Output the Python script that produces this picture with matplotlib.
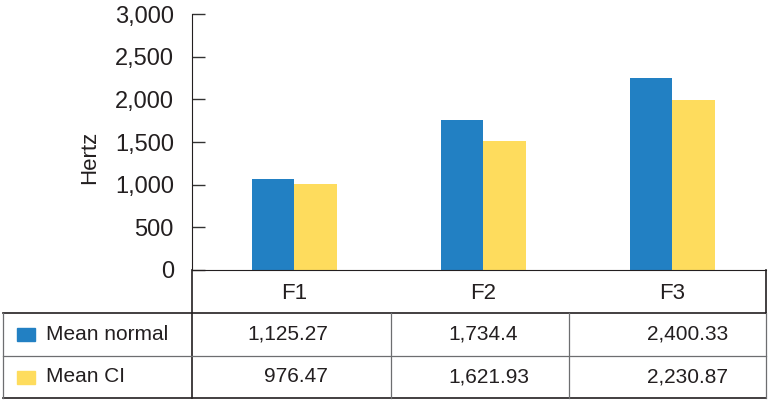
import matplotlib
matplotlib.use('Agg')
import matplotlib.pyplot as plt
from matplotlib.lines import Line2D
from matplotlib.patches import Rectangle
import numpy as np

plt.rcParams['font.family'] = ['Liberation Sans', 'DejaVu Sans']

# data
categories = ['F1', 'F2', 'F3']
series = ['Mean normal', 'Mean CI']
bar_normal = [1066, 1758, 2246]   # bar heights as drawn
bar_ci = [1004, 1508, 1996]
table_normal = ['1,125.27', '1,734.4', '2,400.33']
table_ci = ['976.47', '1,621.93', '2,230.87']
colors = ['#2280C3', '#FEDC5D']

W, H = 770, 401
fig = plt.figure(figsize=(W / 100, H / 100), dpi=100)

# chart area in pixels
x0, x1, ytop, ybase = 192, 766, 14, 270
ax = fig.add_axes([x0 / W, (H - ybase) / H, (x1 - x0) / W, (ybase - ytop) / H])

x = np.arange(len(categories))
bw = 0.225
ax.bar(x - bw / 2, bar_normal, bw, color=colors[0])
ax.bar(x + bw / 2, bar_ci, bw, color=colors[1])
ax.set_xlim(-0.542, 2.495)
ax.set_ylim(0, 3000)
ax.set_yticks(range(0, 3001, 500))
ax.set_yticklabels([f'{v:,}' for v in range(0, 3001, 500)])
ax.tick_params(axis='y', direction='in', length=9, width=1, color='#333333',
               labelsize=17, pad=13, labelcolor='#231f20')
ax.set_xticks([])
for s in ['top', 'right']:
    ax.spines[s].set_visible(False)
ax.spines['left'].set_color('#231f20')
ax.spines['bottom'].set_color('#231f20')
ax.set_ylabel('Hertz', fontsize=16, color='#231f20')
ax.yaxis.set_label_coords(-0.16, 0.44)

# table drawn in pixel coordinates on an overlay axes
tb = fig.add_axes([0, 0, 1, 1])
tb.set_xlim(0, W)
tb.set_ylim(H, 0)
tb.axis('off')
tb.patch.set_alpha(0)

dark = '#231f20'
grey = '#6d6e70'
xl = 3
cols = [192, 391, 569, 766]
rows = [270, 313, 356, 398]


def hline(xa, xb, y, c, lw=1.2):
    tb.add_line(Line2D([xa, xb], [y, y], color=c, lw=lw))


def vline(xp, ya, yb, c, lw=1.2):
    tb.add_line(Line2D([xp, xp], [ya, yb], color=c, lw=lw))


# header box
vline(cols[0], rows[0], rows[3], dark)
vline(cols[3], rows[0], rows[1], dark)
hline(xl, cols[3], rows[1], dark)
hline(xl, cols[3], rows[3], dark)
hline(xl, cols[3], rows[2], grey, 0.9)
vline(xl, rows[1], rows[3], grey, 0.9)
vline(cols[3], rows[1], rows[3], grey, 0.9)
for c in cols[1:3]:
    vline(c, rows[1], rows[3], grey, 0.9)

# header labels at bar centers
for i, cat in enumerate(categories):
    xc = ax.transData.transform((x[i], 0))[0]
    tb.text(xc, (rows[0] + rows[1]) / 2 + 2, cat, ha='center', va='center',
            fontsize=16, color=dark)

# row labels with swatches
for r, (name, col) in enumerate(zip(series, colors)):
    yc = (rows[r + 1] + rows[r + 2]) / 2
    tb.add_patch(Rectangle((17, yc - 6.5), 18, 13, color=col))
    tb.text(46, yc, name, ha='left', va='center', fontsize=15, color=dark)

# cell values
cell_x = [(328, 'right'), (448, 'left'), (688, 'center')]
for r, vals in enumerate([table_normal, table_ci]):
    yc = (rows[r + 1] + rows[r + 2]) / 2
    for j, v in enumerate(vals):
        xp, ha = cell_x[j]
        tb.text(xp, yc, v, ha=ha, va='center', fontsize=15, color=dark)

fig.savefig('out.png', dpi=100)
